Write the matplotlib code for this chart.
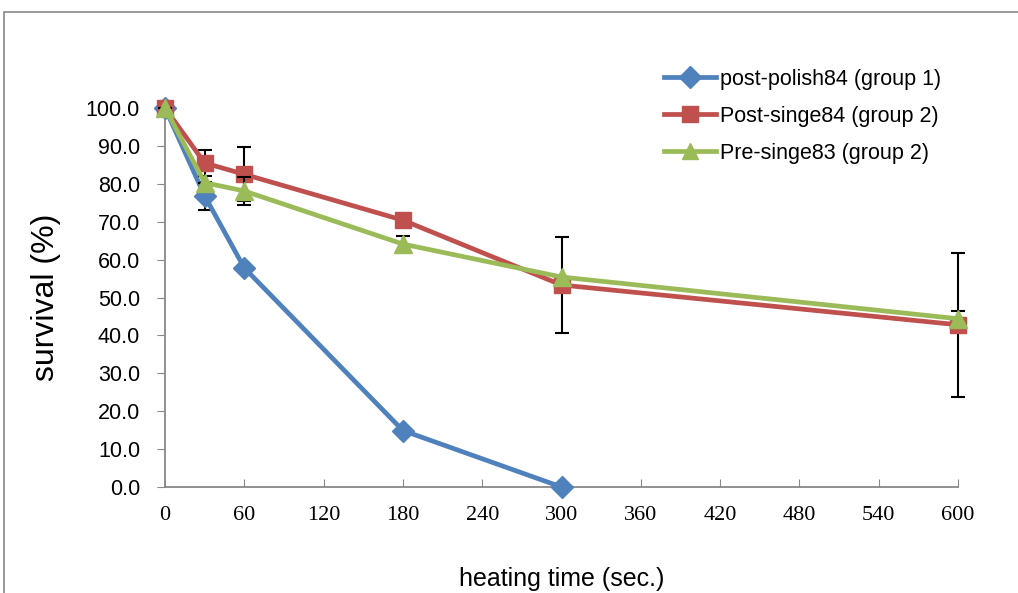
import matplotlib.pyplot as plt
from matplotlib.patches import Rectangle
from matplotlib.lines import Line2D

# heating time (sec.)
t_polish = [0, 30, 60, 180, 300]
t_singe = [0, 30, 60, 180, 300, 600]

polish84 = [100.0, 76.8, 57.8, 14.9, 0.0]
polish84_err = [0, 3.8, 0, 0, 0]

post_singe84 = [100.0, 85.5, 82.5, 70.4, 53.3, 42.8]
post_singe84_err = [0, 3.4, 7.1, 0, 12.6, 19.0]

pre_singe83 = [100.0, 80.3, 78.1, 64.1, 55.4, 44.4]
pre_singe83_err = [0, 0, 3.8, 2.0, 0, 2.0]

labels = ['post-polish84 (group 1)', 'Post-singe84 (group 2)', 'Pre-singe83 (group 2)']
colors = ['#4F81BD', '#C0504D', '#9BBB59']
markers = ['D', 's', '^']

xticks = list(range(0, 601, 60))
yticks = [i * 10 for i in range(11)]

fig = plt.figure(figsize=(10.18, 5.93), dpi=100)
fig.patches.append(Rectangle((4/1018, -0.1), 1.2, 1.1 - 12/593, transform=fig.transFigure,
                             fill=False, edgecolor='#888888', linewidth=1.2))
ax = fig.add_axes([165/1018, 1 - 487/593, (958 - 165)/1018, (487 - 108)/593])

ax.errorbar(t_polish, polish84, yerr=polish84_err, color=colors[0], ecolor='black', elinewidth=1.5,
            capsize=5, capthick=1.5, lw=3.4, marker='D', ms=11, clip_on=False, zorder=3)
ax.errorbar(t_singe, post_singe84, yerr=post_singe84_err, color=colors[1], ecolor='black', elinewidth=1.5,
            capsize=5, capthick=1.5, lw=3.4, marker='s', ms=12, clip_on=False, zorder=4)
ax.errorbar(t_singe, pre_singe83, yerr=pre_singe83_err, color=colors[2], ecolor='black', elinewidth=1.5,
            capsize=5, capthick=1.5, lw=3.4, marker='^', ms=13, clip_on=False, zorder=5)

ax.set_xlim(0, 600)
ax.set_ylim(0, 100)
ax.set_xticks(xticks)
ax.set_xticklabels([str(v) for v in xticks], fontfamily='Liberation Serif', fontsize=16)
ax.set_yticks(yticks)
ax.set_yticklabels(['%.1f' % v for v in yticks], fontfamily='Liberation Sans', fontsize=15.5)
ax.tick_params(axis='x', direction='in', length=6, color='#888888', pad=14)
ax.tick_params(axis='y', direction='out', length=6, color='#888888', pad=12)
for s in ['top', 'right']:
    ax.spines[s].set_visible(False)
for s in ['left', 'bottom']:
    ax.spines[s].set_color('#888888')
    ax.spines[s].set_linewidth(1.3)

ax.set_ylabel('survival (%)', fontfamily='Liberation Sans', fontsize=23, labelpad=18)
ax.set_xlabel('heating time (sec.)', fontfamily='Liberation Sans', fontsize=18, labelpad=30)

handles = [Line2D([], [], color=c, marker=m, lw=3.4, ms=11) for c, m in zip(colors, markers)]
ax.legend(handles, labels, loc='upper left', bbox_to_anchor=(0.605, 1.155), frameon=False,
          prop={'family': 'Liberation Sans', 'size': 15.5}, handlelength=2.4,
          handletextpad=0.2, labelspacing=0.75)

fig.savefig('out.png', dpi=100)
